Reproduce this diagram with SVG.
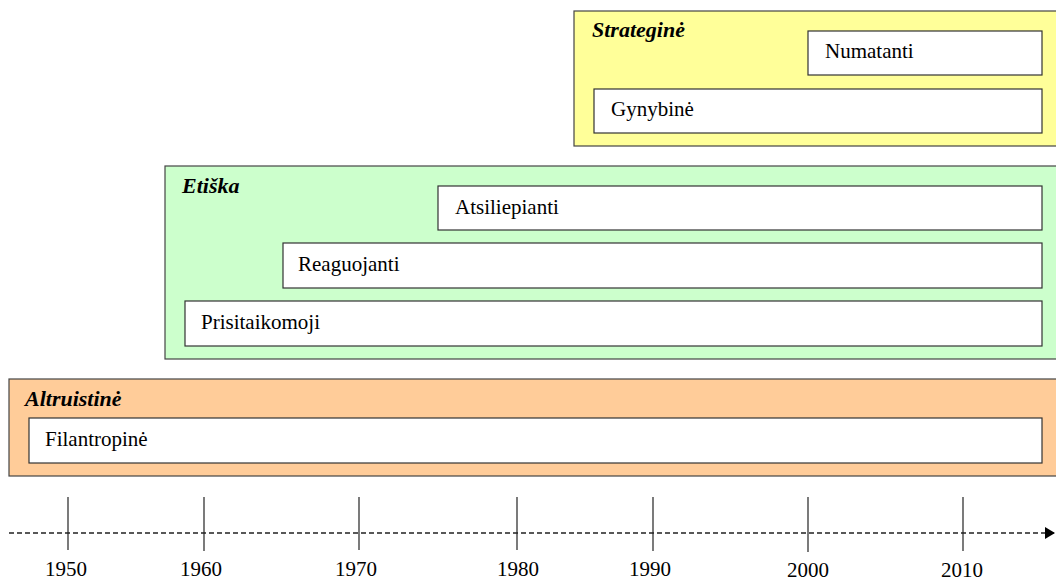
<svg xmlns="http://www.w3.org/2000/svg" width="1056" height="581" viewBox="0 0 1056 581">
  <style>
    .band { stroke: #444; stroke-width: 1.2; }
    .item { fill: #fff; stroke: #333; stroke-width: 1.2; }
    .title { font-family: "Liberation Serif", "Times New Roman", serif; font-size: 22px; font-weight: bold; font-style: italic; fill: #000; }
    .label { font-family: "Liberation Serif", "Times New Roman", serif; font-size: 21px; fill: #000; }
    .year { font-family: "Liberation Serif", "Times New Roman", serif; font-size: 21px; fill: #000; text-anchor: middle; }
    .tick { stroke: #222; stroke-width: 1.2; }
  </style>
  <defs>
    <marker id="arrow" markerWidth="12" markerHeight="14" refX="10" refY="7" orient="auto" markerUnits="userSpaceOnUse">
      <path d="M0,1 L10,7 L0,13 Z" fill="#000"/>
    </marker>
  </defs>
  <rect width="1056" height="581" fill="#fff"/>

  <!-- Strategic band -->
  <g id="strategine">
    <rect class="band" x="574" y="11" width="490" height="135" fill="#FFFF99"/>
    <text class="title" x="592" y="37">Strateginė</text>
  </g>
  <g id="numatanti">
    <rect class="item" x="808" y="31" width="234" height="44"/>
    <text class="label" x="825" y="58">Numatanti</text>
  </g>
  <g id="gynybine">
    <rect class="item" x="594" y="89" width="448" height="44"/>
    <text class="label" x="611" y="116">Gynybinė</text>
  </g>

  <!-- Ethical band -->
  <g id="etiska">
    <rect class="band" x="165" y="166" width="900" height="193" fill="#CCFFCC"/>
    <text class="title" x="182" y="193">Etiška</text>
  </g>
  <g id="atsiliepianti">
    <rect class="item" x="438" y="186" width="604" height="44"/>
    <text class="label" x="455" y="214">Atsiliepianti</text>
  </g>
  <g id="reaguojanti">
    <rect class="item" x="283" y="243" width="759" height="45"/>
    <text class="label" x="298" y="271">Reaguojanti</text>
  </g>
  <g id="prisitaikomoji">
    <rect class="item" x="185" y="301" width="857" height="45"/>
    <text class="label" x="201" y="329">Prisitaikomoji</text>
  </g>

  <!-- Altruistic band -->
  <g id="altruistine">
    <rect class="band" x="9" y="379" width="1060" height="97" fill="#FFCC99"/>
    <text class="title" x="25" y="406">Altruistinė</text>
  </g>
  <g id="filantropine">
    <rect class="item" x="29" y="418" width="1013" height="45"/>
    <text class="label" x="45" y="446">Filantropinė</text>
  </g>

  <!-- Timeline axis -->
  <g id="timeline">
    <line x1="9" y1="533" x2="1055" y2="533" stroke="#222" stroke-width="1.3" stroke-dasharray="5,3" marker-end="url(#arrow)"/>
    <line class="tick" x1="68" y1="497" x2="68" y2="550"/>
    <line class="tick" x1="204" y1="497" x2="204" y2="551"/>
    <line class="tick" x1="359" y1="497" x2="359" y2="550"/>
    <line class="tick" x1="517" y1="497" x2="517" y2="550"/>
    <line class="tick" x1="653" y1="497" x2="653" y2="551"/>
    <line class="tick" x1="808" y1="497" x2="808" y2="552"/>
    <line class="tick" x1="963" y1="497" x2="963" y2="551"/>
    <text class="year" x="66" y="576">1950</text>
    <text class="year" x="201" y="576">1960</text>
    <text class="year" x="356" y="576">1970</text>
    <text class="year" x="518" y="576">1980</text>
    <text class="year" x="650" y="576">1990</text>
    <text class="year" x="808" y="577">2000</text>
    <text class="year" x="962" y="577">2010</text>
  </g>
</svg>
